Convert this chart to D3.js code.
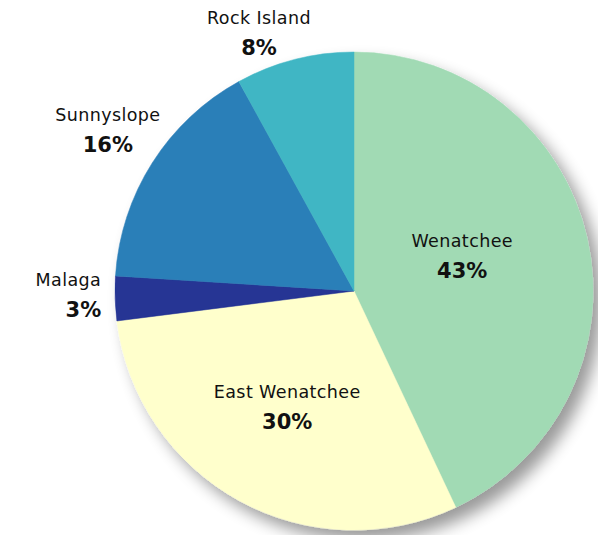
<!DOCTYPE html>
<html>
<head>
<meta charset="utf-8">
<script src="https://cdn.jsdelivr.net/npm/d3@7"></script>
<style>
  html, body { margin: 0; padding: 0; background: #fff; }
  svg text { font-family: "DejaVu Sans", "Lato", sans-serif; fill: #111; }
</style>
</head>
<body>
<svg id="chart" width="598" height="535"></svg>
<script>
const places = ['Wenatchee', 'East Wenatchee', 'Malaga', 'Sunnyslope', 'Rock Island'];
const shares = [43, 30, 3, 16, 8];
const colors = ['#a1dab4', '#ffffcc', '#253494', '#2c7fb8', '#41b6c4'];

const width = 598, height = 535;
const cx = 354, cy = 291, radius = 239;

// label placement: distance as fraction of radius, angle nudge in degrees
const labelPos = {
  'Wenatchee': [0.47, -3],
  'East Wenatchee': [0.58, 0],
  'Malaga': [1.23, 0],
  'Sunnyslope': [1.22, 0],
  'Rock Island': [1.13, -6.2]
};

const svg = d3.select('#chart');

const defs = svg.append('defs');
const f = defs.append('filter').attr('id', 'shadow')
  .attr('x', '-20%').attr('y', '-20%').attr('width', '140%').attr('height', '140%');
f.append('feGaussianBlur').attr('in', 'SourceAlpha').attr('stdDeviation', 8);
f.append('feOffset').attr('dx', 9).attr('dy', 10).attr('result', 'off');
f.append('feComponentTransfer').append('feFuncA').attr('type', 'linear').attr('slope', 0.4);
const m = f.append('feMerge');
m.append('feMergeNode');
m.append('feMergeNode').attr('in', 'SourceGraphic');

const data = places.map((p, i) => ({ place: p, value: shares[i], color: colors[i] }));

const pie = d3.pie().value(d => d.value).sort(null);
const arcs = pie(data);
const arc = d3.arc().innerRadius(0).outerRadius(radius);

const g = svg.append('g').attr('transform', `translate(${cx},${cy})`);

g.append('g').attr('filter', 'url(#shadow)')
  .selectAll('path')
  .data(arcs)
  .enter()
  .append('path')
  .attr('d', arc)
  .attr('fill', d => d.data.color)
  .attr('stroke', d => d.data.color)
  .attr('stroke-width', 0.5);

const labels = g.selectAll('.lbl')
  .data(arcs)
  .enter()
  .append('g')
  .attr('class', 'lbl')
  .attr('transform', d => {
    const [k, nudge] = labelPos[d.data.place];
    const a = (d.startAngle + d.endAngle) / 2 + nudge * Math.PI / 180;
    const r = radius * k;
    return `translate(${Math.sin(a) * r},${-Math.cos(a) * r})`;
  });

const isMalaga = d => d.data.place === 'Malaga';

labels.append('text')
  .attr('text-anchor', d => isMalaga(d) ? 'end' : 'middle')
  .attr('x', d => isMalaga(d) ? 41 : 0)
  .attr('y', -14)
  .style('font-size', '17.5px')
  .style('letter-spacing', '0.4px')
  .text(d => d.data.place);

labels.append('text')
  .attr('text-anchor', d => isMalaga(d) ? 'end' : 'middle')
  .attr('x', d => isMalaga(d) ? 41 : 0)
  .attr('y', 17)
  .style('font-size', '21px')
  .style('font-weight', 'bold')
  .text(d => d.data.value + '%');
</script>
</body>
</html>
